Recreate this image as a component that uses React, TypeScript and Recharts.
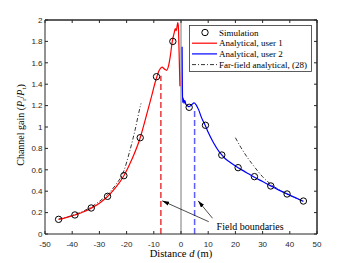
import { ComposedChart, Line, XAxis, YAxis, ReferenceLine, ReferenceDot, Label } from 'recharts';

const xTicks = [-50, -40, -30, -20, -10, 0, 10, 20, 30, 40, 50];
const yTicks = [0, 0.2, 0.4, 0.6, 0.8, 1, 1.2, 1.4, 1.6, 1.8, 2];

// simulation markers
const simDistance = [-45, -39, -33, -27, -21, -15, -9, -3, 3, 9, 15, 21, 27, 33, 39, 45];
const simGain = [0.137, 0.178, 0.243, 0.352, 0.545, 0.9, 1.47, 1.8, 1.184, 1.016, 0.738, 0.62, 0.536, 0.449, 0.374, 0.308];

// analytical, user 1 (red)
const user1Distance = [-45, -42, -39, -36, -33, -30, -27, -24, -21, -18, -15, -13, -11, -9, -8, -7, -6, -5.3, -4.5, -4, -3.2, -2.5, -2.1, -1.8, -1.5, -1.2, -1, -0.7, -0.4];
const user1Gain = [0.135, 0.155, 0.178, 0.205, 0.242, 0.288, 0.35, 0.435, 0.545, 0.7, 0.9, 1.08, 1.27, 1.46, 1.53, 1.56, 1.54, 1.53, 1.58, 1.65, 1.8, 1.88, 1.92, 1.9, 1.93, 1.975, 1.95, 1.7, 1.38];

// analytical, user 2 (blue)
const user2Distance = [0.4, 0.5, 0.6, 0.8, 1.1, 1.4, 1.8, 2.3, 3, 4, 4.8, 5.5, 6.5, 7.5, 9, 10, 12, 14, 15, 16, 18, 21, 24, 27, 30, 33, 36, 39, 42, 45];
const user2Gain = [1.75, 1.4, 1.23, 1.27, 1.22, 1.25, 1.21, 1.2, 1.19, 1.21, 1.225, 1.21, 1.16, 1.09, 1.01, 0.95, 0.85, 0.77, 0.74, 0.71, 0.67, 0.62, 0.575, 0.53, 0.49, 0.45, 0.41, 0.375, 0.34, 0.305];

// far-field analytical, (28)
const farLeftDistance = [-45, -42, -39, -36, -33, -30, -27, -24, -21, -19, -17, -15, -14.7];
const farLeftGain = [0.14, 0.158, 0.182, 0.213, 0.253, 0.305, 0.37, 0.46, 0.59, 0.76, 0.96, 1.19, 1.22];
const farRightDistance = [20, 22, 24, 26, 28, 30, 33, 36, 39, 42, 45];
const farRightGain = [0.9, 0.81, 0.73, 0.66, 0.595, 0.535, 0.465, 0.415, 0.372, 0.338, 0.305];

// field boundaries
const boundary1Distance = [-7.4, -7.4];
const boundary1Gain = [0, 1.48];
const boundary2Distance = [5, 5];
const boundary2Gain = [0, 1.17];

const toPoints = (xs: number[], ys: number[]) => xs.map((x, i) => ({ x, y: ys[i] }));

const simData = toPoints(simDistance, simGain);
const user1Data = toPoints(user1Distance, user1Gain);
const user2Data = toPoints(user2Distance, user2Gain);
const farLeftData = toPoints(farLeftDistance, farLeftGain);
const farRightData = toPoints(farRightDistance, farRightGain);
const boundary1Data = toPoints(boundary1Distance, boundary1Gain);
const boundary2Data = toPoints(boundary2Distance, boundary2Gain);

const AXIS = '#262626';
const SERIF = '"Liberation Serif", "Times New Roman", serif';
const SANS = '"Liberation Sans", Arial, sans-serif';

const arrowShape = (p: any) => (
  <line x1={p.x1} y1={p.y1} x2={p.x2} y2={p.y2} stroke="#000" strokeWidth={0.7} markerEnd="url(#fieldArrow)" />
);

const YLabel = ({ viewBox }: any) => {
  const cx = (viewBox?.x ?? 0) + 24;
  const cy = (viewBox?.y ?? 20) + (viewBox?.height ?? 214) / 2 - 2;
  return (
    <text x={cx} y={cy} transform={`rotate(-90 ${cx} ${cy})`} textAnchor="middle" fontFamily={SERIF} fontSize={10} fill="#000">
      Channel gain (<tspan fontStyle="italic">P</tspan>
      <tspan fontSize={7} dy={2}>r</tspan>
      <tspan dy={-2}>/</tspan>
      <tspan fontStyle="italic">P</tspan>
      <tspan fontSize={7} dy={2}>t</tspan>
      <tspan dy={-2}>)</tspan>
    </text>
  );
};

const XLabel = ({ viewBox }: any) => {
  const cx = (viewBox?.x ?? 45) + (viewBox?.width ?? 272) / 2;
  return (
    <text x={cx} y={257} textAnchor="middle" fontFamily={SERIF} fontSize={10.5} fill="#000">
      Distance <tspan fontStyle="italic">d</tspan> (m)
    </text>
  );
};

function LegendBox() {
  const rows = [
    { kind: 'marker', text: 'Simulation' },
    { kind: 'red', text: 'Analytical, user 1' },
    { kind: 'blue', text: 'Analytical, user 2' },
    { kind: 'dashdot', text: 'Far-field analytical, (28)' },
  ];
  return (
    <svg width={123} height={47} style={{ position: 'absolute', left: 189, top: 25 }}>
      <rect x={0.5} y={0.5} width={122} height={46} fill="#fff" stroke="#333" strokeWidth={0.8} />
      {rows.map((r, i) => {
        const cy = 7.5 + i * 10.7;
        return (
          <g key={r.text}>
            {r.kind === 'marker' && <circle cx={16} cy={cy} r={3.2} fill="none" stroke="#000" strokeWidth={1} />}
            {r.kind === 'red' && <line x1={3} x2={28} y1={cy} y2={cy} stroke="#ff0000" strokeWidth={1.2} />}
            {r.kind === 'blue' && <line x1={3} x2={28} y1={cy} y2={cy} stroke="#0000ff" strokeWidth={1.2} />}
            {r.kind === 'dashdot' && <line x1={3} x2={28} y1={cy} y2={cy} stroke="#000" strokeWidth={0.8} strokeDasharray="4 2 1 2" />}
            <text x={30} y={cy + 3} fontFamily={SERIF} fontSize={9} fill="#000">{r.text}</text>
          </g>
        );
      })}
    </svg>
  );
}

// tick marks only, no labels, on the top and right edges
const noLabel = () => <g />;

function App() {
  return (
    <div style={{ position: 'absolute', left: 0, top: 0, width: 350, height: 263, background: '#fff' }}>
      <svg width={0} height={0} style={{ position: 'absolute' }}>
        <defs>
          <marker id="fieldArrow" viewBox="0 0 10 6" refX="10" refY="3" markerWidth="7" markerHeight="4.2" markerUnits="userSpaceOnUse" orient="auto">
            <path d="M0,0 L10,3 L0,6 z" fill="#000" />
          </marker>
        </defs>
      </svg>
      <ComposedChart width={350} height={263} margin={{ top: 19, right: 32, bottom: 0, left: 0 }}>
        <XAxis
          dataKey="x"
          type="number"
          domain={[-50, 50]}
          ticks={xTicks}
          interval={0}
          allowDataOverflow
          height={29}
          tickSize={-3}
          tickMargin={10}
          stroke={AXIS}
          tick={{ fill: AXIS, fontSize: 8, fontFamily: SANS }}
        >
          <Label content={<XLabel />} />
        </XAxis>
        <XAxis
          xAxisId="top"
          dataKey="x"
          orientation="top"
          type="number"
          domain={[-50, 50]}
          ticks={xTicks}
          interval={0}
          allowDataOverflow
          height={1}
          tickSize={-3}
          tick={noLabel}
          stroke={AXIS}
        />
        <YAxis
          type="number"
          domain={[0, 2]}
          ticks={yTicks}
          interval={0}
          allowDataOverflow
          width={45}
          tickSize={-3}
          tickMargin={5.5}
          stroke={AXIS}
          tick={{ fill: AXIS, fontSize: 8, fontFamily: SANS }}
        >
          <Label content={<YLabel />} />
        </YAxis>
        <YAxis
          yAxisId="right"
          orientation="right"
          type="number"
          domain={[0, 2]}
          ticks={yTicks}
          interval={0}
          allowDataOverflow
          width={1}
          tickSize={-3}
          tick={noLabel}
          stroke={AXIS}
        />
        <ReferenceLine y={2} stroke={AXIS} strokeWidth={1} />
        <ReferenceLine x={50} stroke={AXIS} strokeWidth={1} />
        <ReferenceLine x={0} stroke="#555" strokeWidth={0.8} />
        <Line data={boundary1Data} dataKey="y" type="linear" stroke="#e8383c" strokeWidth={1.5} strokeDasharray="6 3" dot={false} isAnimationActive={false} />
        <Line data={boundary2Data} dataKey="y" type="linear" stroke="#5c5cff" strokeWidth={1.5} strokeDasharray="6 3" dot={false} isAnimationActive={false} />
        <Line data={farLeftData} dataKey="y" type="monotone" stroke="#000" strokeWidth={0.8} strokeDasharray="4 2 1 2" dot={false} isAnimationActive={false} />
        <Line data={farRightData} dataKey="y" type="monotone" stroke="#000" strokeWidth={0.8} strokeDasharray="4 2 1 2" dot={false} isAnimationActive={false} />
        <Line data={user1Data} dataKey="y" type="monotone" stroke="#ff0000" strokeWidth={1.2} dot={false} isAnimationActive={false} />
        <Line data={user2Data} dataKey="y" type="monotone" stroke="#0000ff" strokeWidth={1.2} dot={false} isAnimationActive={false} />
        <Line
          data={simData}
          dataKey="y"
          xAxisId="top"
          yAxisId="right"
          stroke="none"
          dot={{ r: 3.2, stroke: '#000', strokeWidth: 1, fill: 'none' }}
          isAnimationActive={false}
        />
        <ReferenceLine segment={[{ x: 10.2, y: 0.115 }, { x: -6.9, y: 0.31 }]} shape={arrowShape} ifOverflow="visible" />
        <ReferenceLine segment={[{ x: 11.6, y: 0.147 }, { x: 6.3, y: 0.31 }]} shape={arrowShape} ifOverflow="visible" />
        <ReferenceDot
          x={25.4}
          y={0.075}
          r={0}
          fill="none"
          stroke="none"
          label={{ value: 'Field boundaries', position: 'center', fill: '#000', fontSize: 10, fontFamily: SERIF }}
        />
      </ComposedChart>
      <LegendBox />
    </div>
  );
}

export default App;
